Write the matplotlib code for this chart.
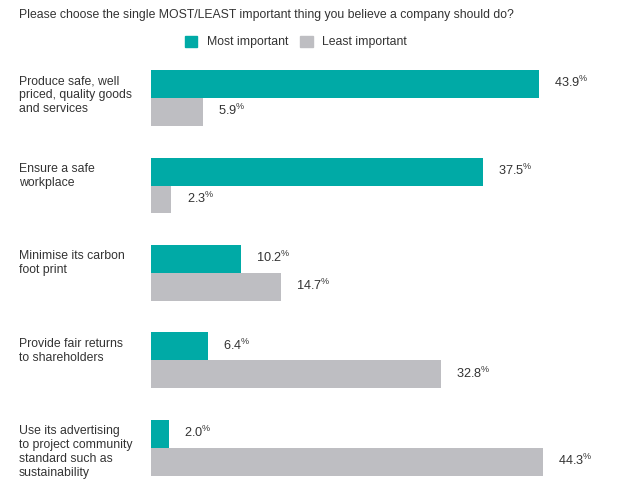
import matplotlib
matplotlib.use("Agg")
import matplotlib.pyplot as plt
import matplotlib.transforms as mtransforms
from matplotlib.patches import Patch

plt.rcParams['font.family'] = ['Liberation Sans', 'DejaVu Sans']
plt.rcParams['mathtext.fontset'] = 'custom'
plt.rcParams['mathtext.rm'] = 'Liberation Sans'
plt.rcParams['mathtext.default'] = 'regular'

title = "Please choose the single MOST/LEAST important thing you believe a company should do?"
categories = [
    "Produce safe, well\npriced, quality goods\nand services",
    "Ensure a safe\nworkplace",
    "Minimise its carbon\nfoot print",
    "Provide fair returns\nto shareholders",
    "Use its advertising\nto project community\nstandard such as\nsustainability",
]
most = [43.9, 37.5, 10.2, 6.4, 2.0]
least = [5.9, 2.3, 14.7, 32.8, 44.3]
series_names = ["Most important", "Least important"]

teal = "#00aaa6"
grey = "#bebec2"
txt = "#333333"
fs = 8.8

fig = plt.figure(figsize=(6.3, 4.9), dpi=100)
ax = fig.add_axes([151 / 630, 1 - 483 / 490, (593 - 151) / 630, (483 - 63) / 490])

h = 0.32
pos = list(range(len(categories)))
ax.barh([p - h / 2 for p in pos], most, height=h, color=teal)
ax.barh([p + h / 2 for p in pos], least, height=h, color=grey)

for p, m, l in zip(pos, most, least):
    ax.annotate(f"{m:.1f}$^{{\\%}}$", (m, p - h / 2), xytext=(11, 1), textcoords="offset points",
                va="center", ha="left", fontsize=9.2, color=txt)
    ax.annotate(f"{l:.1f}$^{{\\%}}$", (l, p + h / 2), xytext=(11, 1), textcoords="offset points",
                va="center", ha="left", fontsize=9.2, color=txt)

trans = mtransforms.blended_transform_factory(fig.transFigure, ax.transData)
for p, c in zip(pos, categories):
    ax.text(19 / 630, p - h + 0.06, c, transform=trans, ha="left", va="top",
            fontsize=fs, color=txt, linespacing=1.2)

ax.set_xlim(0, 50)
ax.set_ylim(4.4, -0.4)
ax.axis("off")

fig.text(19 / 630, 1 - 15 / 490, title, ha="left", va="center", fontsize=fs, color=txt)

handles = [Patch(color=teal), Patch(color=grey)]
fig.legend(handles, series_names, loc="center", bbox_to_anchor=(296 / 630, 1 - 42 / 490),
           ncol=2, frameon=False, fontsize=fs, handlelength=1.0, handleheight=1.0,
           handletextpad=0.8, columnspacing=1.0, labelcolor=txt)

fig.savefig("out.png", dpi=100)
